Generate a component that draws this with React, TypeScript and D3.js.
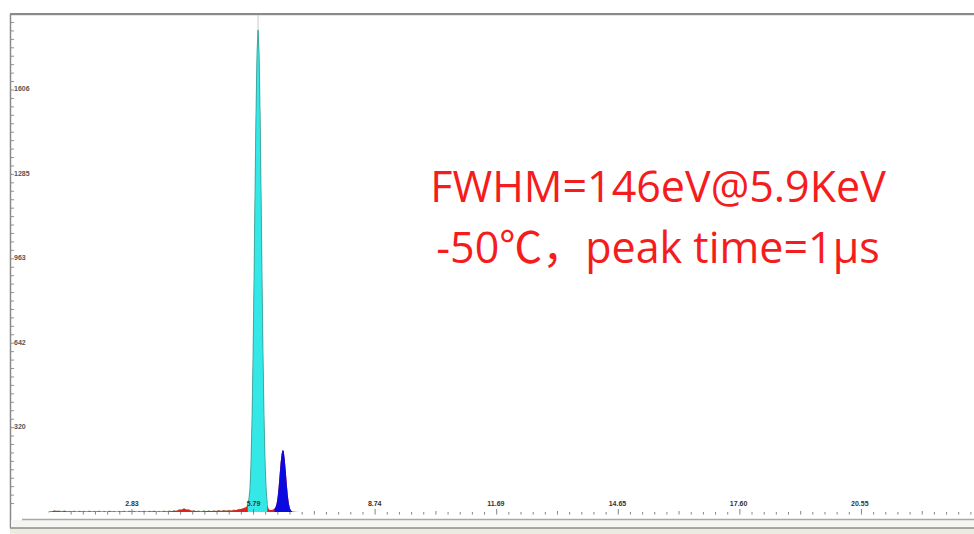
import React, { useRef, useEffect } from 'react';
import * as d3 from 'd3';

// spectrum channels (keV) and counts
const energies = [
  0.8, 0.9, 1.0, 1.1, 1.2, 1.3, 1.4, 1.5, 1.6, 1.7, 1.8, 1.9, 2.0, 2.1, 2.2, 2.3,
  2.4, 2.5, 2.6, 2.7, 2.8, 2.9, 3.0, 3.1, 3.2, 3.3, 3.4, 3.5, 3.6, 3.7, 3.8, 3.9,
  4.0, 4.1, 4.2, 4.3, 4.4, 4.5, 4.6, 4.7, 4.8, 4.9, 5.0, 5.1, 5.2, 5.3, 5.4, 5.5,
  5.525, 5.55, 5.575, 5.6, 5.625, 5.65, 5.675, 5.7, 5.725, 5.75, 5.775, 5.8, 5.825,
  5.85, 5.875, 5.9, 5.925, 5.95, 5.975, 6.0, 6.025, 6.05, 6.075, 6.1, 6.125, 6.15,
  6.175, 6.2, 6.225, 6.25, 6.275, 6.3, 6.325, 6.35, 6.375, 6.4, 6.425, 6.45, 6.475,
  6.5, 6.525, 6.55, 6.575, 6.6, 6.625, 6.65, 6.675, 6.7, 6.725, 6.75, 6.8, 6.9, 7.0,
];
const counts = [
  0, 4, 5, 3, 4, 2, 3, 2, 3, 2, 3, 2, 3, 2, 2, 3,
  2, 2, 3, 2, 3, 2, 2, 3, 2, 3, 3, 2, 3, 3, 4, 5,
  9, 12, 9, 5, 4, 3, 4, 4, 4, 5, 5, 6, 6, 7, 9, 12,
  13, 14, 16, 18, 22, 30, 48, 82, 170, 330, 560, 860, 1200,
  1520, 1750, 1835, 1750, 1520, 1200, 860, 560, 330, 170, 80, 32, 14,
  9, 8, 8, 9, 10, 12, 18, 30, 54, 92, 140, 188, 222,
  236, 232, 200, 155, 105, 62, 32, 14, 6, 3, 2, 1, 0, 0,
];

// regions of interest (keV)
const kAlphaRoi = [5.65, 6.125];
const kBetaRoi = [6.3, 6.725];
const cursorEnergy = 5.9;

const yTickLabels = [320, 642, 963, 1285, 1606];
const xTickLabels = ['2.83', '5.79', '8.74', '11.69', '14.65', '17.60', '20.55'];

const noteLines = ['FWHM=146eV@5.9KeV', '-50℃，peak time=1μs'];

const W = 974;
const H = 534;

const SpectrumChart = () => {
  const svgRef = useRef(null);

  useEffect(() => {
    const svg = d3.select(svgRef.current);
    svg.selectAll('*').remove();

    const left = 10;
    const top = 14;
    const base = 512;

    const x = d3.scaleLinear().domain([0, 23.33]).range([15.7, W]);
    const y = d3.scaleLinear().domain([0, 1606]).range([base, 90]);

    svg.append('rect').attr('width', W).attr('height', H).attr('fill', '#fff');

    // frame
    svg.append('line')
      .attr('x1', left).attr('x2', W).attr('y1', top).attr('y2', top)
      .attr('stroke', '#8a8a8a').attr('stroke-width', 2);
    svg.append('line')
      .attr('x1', left).attr('x2', W).attr('y1', top + 1.5).attr('y2', top + 1.5)
      .attr('stroke', '#e6e6e6').attr('stroke-width', 1);
    svg.append('line')
      .attr('x1', left + 0.5).attr('x2', left + 0.5).attr('y1', top).attr('y2', 528)
      .attr('stroke', '#8a8a8a').attr('stroke-width', 1.5);

    // bottom strip
    svg.append('rect')
      .attr('x', left + 1).attr('y', 520).attr('width', W - left).attr('height', 8)
      .attr('fill', '#f5f5f3');
    svg.append('line')
      .attr('x1', 22).attr('x2', W).attr('y1', 519.5).attr('y2', 519.5)
      .attr('stroke', '#a8a8a8').attr('stroke-width', 1.5);
    svg.append('rect')
      .attr('x', left).attr('y', 528).attr('width', W - left).attr('height', H - 528)
      .attr('fill', '#ecebe0');
    svg.append('line')
      .attr('x1', left).attr('x2', W).attr('y1', 528).attr('y2', 528)
      .attr('stroke', '#8c8c88').attr('stroke-width', 1.5);

    // cursor
    svg.append('line')
      .attr('x1', x(cursorEnergy)).attr('x2', x(cursorEnergy))
      .attr('y1', top + 1).attr('y2', base)
      .attr('stroke', '#c9c9c9').attr('stroke-width', 1);

    const pts = energies.map((e, i) => [e, counts[i]]);
    const area = d3.area()
      .x((d) => x(d[0]))
      .y0(base)
      .y1((d) => y(d[1]));
    const inRoi = (roi) => pts.filter((d) => d[0] >= roi[0] && d[0] <= roi[1]);

    svg.append('path').datum(pts).attr('d', area).attr('fill', '#e3201c');
    svg.append('path').datum(inRoi(kAlphaRoi)).attr('d', area).attr('fill', '#35e8e8');
    svg.append('path').datum(inRoi(kBetaRoi)).attr('d', area).attr('fill', '#0a0ae0');

    const line = d3.line().x((d) => x(d[0])).y((d) => y(d[1]));
    svg.append('path')
      .datum(pts.filter((d) => d[0] < kAlphaRoi[0]))
      .attr('d', line)
      .attr('fill', 'none')
      .attr('stroke', '#4d6b3a')
      .attr('stroke-width', 0.8)
      .attr('stroke-dasharray', '2 3');
    svg.append('path')
      .datum(inRoi(kAlphaRoi))
      .attr('d', line)
      .attr('fill', 'none')
      .attr('stroke', '#2aa79c')
      .attr('stroke-width', 0.8);

    // y axis
    const yStep = yTickLabels[yTickLabels.length - 1] / 50;
    const yMinor = d3.range(yStep, y.invert(top + 4), yStep);
    svg.append('g')
      .selectAll('line')
      .data(yMinor)
      .enter()
      .append('line')
      .attr('x1', left + 1).attr('x2', left + 4)
      .attr('y1', (d) => y(d)).attr('y2', (d) => y(d))
      .attr('stroke', '#777').attr('stroke-width', 0.8);
    svg.append('g')
      .selectAll('text')
      .data(yTickLabels)
      .enter()
      .append('text')
      .attr('x', left + 4)
      .attr('y', (d) => y(d) - 1)
      .attr('dy', '0.35em')
      .attr('font-family', 'Liberation Sans, Arial, sans-serif')
      .attr('font-size', 7)
      .attr('font-weight', 'bold')
      .attr('fill', '#555')
      .text((d) => d);

    // x axis
    const xVals = xTickLabels.map(Number);
    const xStep = (xVals[1] - xVals[0]) / 10;
    const xMinor = d3.range(-5, Math.ceil((x.invert(W) - xVals[0]) / xStep) + 1)
      .map((k) => xVals[0] + k * xStep)
      .filter((v) => x(v) >= 20);
    svg.append('g')
      .selectAll('line')
      .data(xMinor)
      .enter()
      .append('line')
      .attr('x1', (d) => x(d)).attr('x2', (d) => x(d))
      .attr('y1', (d) => {
        const k = Math.round((d - xVals[0]) / xStep);
        const m = ((k % 10) + 10) % 10;
        return m === 0 ? base - 3 : m === 5 ? base - 1 : base;
      })
      .attr('y2', base + 2.5)
      .attr('stroke', '#666').attr('stroke-width', 0.8);
    svg.append('g')
      .selectAll('text')
      .data(xTickLabels)
      .enter()
      .append('text')
      .attr('x', (d) => x(+d))
      .attr('y', 506)
      .attr('text-anchor', 'middle')
      .attr('font-family', 'Liberation Sans, Arial, sans-serif')
      .attr('font-size', 7)
      .attr('font-weight', 'bold')
      .attr('fill', '#333')
      .text((d) => d);

    // annotation
    svg.append('g')
      .selectAll('text')
      .data(noteLines)
      .enter()
      .append('text')
      .attr('x', 658)
      .attr('y', (d, i) => 202 + i * 61)
      .attr('text-anchor', 'middle')
      .attr('font-family', '"Open Sans", "Noto Sans CJK SC", sans-serif')
      .attr('font-size', 43)
      .attr('fill', '#f41c1c')
      .text((d) => d);
  }, []);

  return (
    <svg
      ref={svgRef}
      width={W}
      height={H}
      style={{ position: 'absolute', left: 0, top: 0, display: 'block' }}
    />
  );
};

export default function App() {
  return <SpectrumChart />;
}
